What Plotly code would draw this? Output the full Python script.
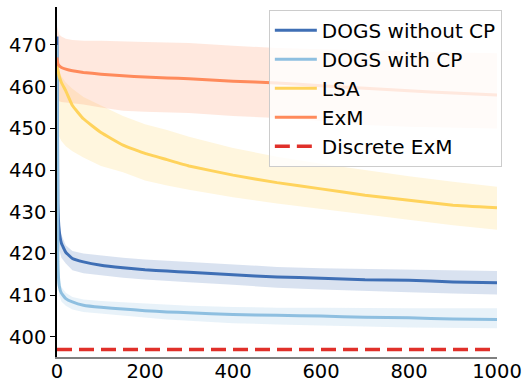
import plotly.graph_objects as go

iters = [0, 2, 5, 10, 20, 35, 60, 100, 150, 200, 250, 300, 400, 500, 600, 700, 800, 900, 1000]

dogs_no_cp = [472, 432, 425.5, 422.5, 420.3, 418.8, 418.0, 417.2, 416.6, 416.1, 415.8, 415.5, 414.9, 414.4, 414.1, 413.7, 413.6, 413.2, 413.0]
dogs_no_cp_hi = [478, 438, 428, 424.5, 422, 420.6, 420, 419.5, 419.0, 418.6, 418.3, 418.0, 417.4, 416.8, 416.5, 416.3, 416.1, 415.9, 415.8]
dogs_no_cp_lo = [466, 426, 421, 419, 417.6, 416, 415.3, 414.8, 414.2, 413.8, 413.4, 413.1, 412.5, 411.8, 411.4, 411.0, 410.7, 410.4, 410.2]

dogs_cp = [470, 418, 412.3, 410.5, 409.2, 408.4, 407.6, 407.1, 406.7, 406.3, 406.0, 405.8, 405.4, 405.2, 405.0, 404.7, 404.6, 404.3, 404.2]
dogs_cp_hi = [476, 421, 414.5, 412, 410.6, 409.6, 409.0, 408.6, 408.3, 408.0, 407.7, 407.5, 407.2, 407.0, 407.0, 406.9, 406.9, 406.9, 406.9]
dogs_cp_lo = [464, 415, 410, 408.5, 407.5, 406.6, 406.0, 405.6, 405.1, 404.6, 404.2, 403.9, 403.3, 403.0, 402.7, 402.5, 402.3, 402.2, 402.1]

lsa = [465, 464, 462.5, 461, 459, 455.5, 452.3, 449, 446, 444, 442.5, 441, 438.8, 437, 435.5, 434, 432.8, 431.6, 431.0]
lsa_hi = [466, 465, 463.5, 462.5, 461, 459.5, 457.5, 455.5, 453, 451, 449.6, 448, 445.3, 443.2, 441.5, 440, 438.5, 437.2, 436.0]
lsa_lo = [452, 450, 448, 447, 445.7, 444.5, 443, 441, 439.5, 437.5, 436.3, 435.3, 433.5, 432, 430.7, 429.3, 428, 426.8, 425.7]

exm = [467, 465.5, 465, 464.6, 464.2, 463.8, 463.4, 463.0, 462.6, 462.3, 462.1, 461.9, 461.3, 460.9, 460.2, 459.6, 459.0, 458.5, 458.0]
exm_hi = [474.5, 473.5, 472.5, 472, 471.5, 471.2, 471, 471, 470.8, 470.7, 470.6, 470.5, 469.8, 469.3, 469.0, 468.8, 468.5, 468.2, 468.0]
exm_lo = [456.8, 456.6, 456.5, 456.3, 456.2, 456, 455.7, 455, 454.2, 454, 453.8, 453.7, 453, 452.5, 451.8, 450.8, 450.4, 450.2, 450.0]

discrete_x = [0, 1000]
discrete_exm = [397, 397]

series = [
    ("DOGS without CP", dogs_no_cp, dogs_no_cp_hi, dogs_no_cp_lo, "#3F6FB5", "rgba(63,111,181,0.2)"),
    ("DOGS with CP", dogs_cp, dogs_cp_hi, dogs_cp_lo, "#8EBFE0", "rgba(142,191,224,0.2)"),
    ("LSA", lsa, lsa_hi, lsa_lo, "#FFD35C", "rgba(255,211,92,0.2)"),
    ("ExM", exm, exm_hi, exm_lo, "#FF8A5B", "rgba(255,138,91,0.2)"),
]

fig = go.Figure()
for i, (name, mean, hi, lo, col, band) in enumerate(series):
    fig.add_trace(go.Scatter(x=iters, y=hi, mode="lines", line=dict(width=0),
                             showlegend=False, hoverinfo="skip"))
    fig.add_trace(go.Scatter(x=iters, y=lo, mode="lines", line=dict(width=0),
                             fill="tonexty", fillcolor=band, showlegend=False, hoverinfo="skip"))
for i, (name, mean, hi, lo, col, band) in enumerate(series):
    fig.add_trace(go.Scatter(x=iters, y=mean, mode="lines", name=name,
                             line=dict(color=col, width=3, shape="spline", smoothing=0.3),
                             legendgroup=name))
fig.add_trace(go.Scatter(x=discrete_x, y=discrete_exm, mode="lines", name="Discrete ExM",
                         line=dict(color="#E0302A", width=3.5, dash="15px,7px"),
                         legendgroup="Discrete ExM"))

fig.update_layout(
    width=522, height=385,
    margin=dict(l=57, r=25, t=7, b=28, autoexpand=False),
    paper_bgcolor="white", plot_bgcolor="white",
    font=dict(family="DejaVu Sans", size=19.5, color="black"),
    legend=dict(x=1.011, xanchor="right", y=0.992, yanchor="top",
                bgcolor="rgba(255,255,255,0.8)", bordercolor="#cccccc", borderwidth=1,
                tracegroupgap=0, itemwidth=42, font=dict(size=20)),
    xaxis=dict(range=[0, 1000], tickvals=[0, 200, 400, 600, 800, 1000],
               showgrid=False, zeroline=False, showline=True, linecolor="#808080", linewidth=2,
               ticks="", automargin=False, ticklabeloverflow="allow", ticklabelstandoff=-4),
    yaxis=dict(range=[395.2, 479.1], tickvals=[400, 410, 420, 430, 440, 450, 460, 470],
               showgrid=False, zeroline=False, showline=True, linecolor="black", linewidth=1.5,
               ticks="outside", ticklen=5, tickcolor="black", tickwidth=1.2, automargin=False),
)

fig.write_html("out.html", config={"displayModeBar": False},
               post_script="document.body.style.margin='0px';")
